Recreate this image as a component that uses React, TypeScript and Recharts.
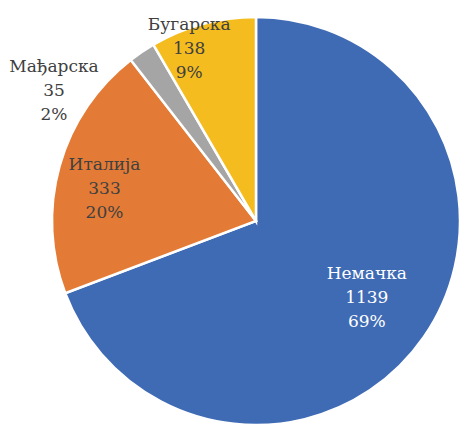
import React from 'react';
import { PieChart, Pie, Cell } from 'recharts';

// Data
const countries = ['Немачка', 'Италија', 'Мађарска', 'Бугарска'];
const counts = [1139, 333, 35, 138];
const percentLabels = ['69%', '20%', '2%', '9%'];
const colors = ['#3F6BB5', '#E37B36', '#A5A5A5', '#F4BC1F'];
const labelColors = ['#FFFFFF', '#404040', '#404040', '#404040'];

// label placement: radius factor (of outerRadius) and angle shift in degrees
const labelRadius = [0.66, 0.76, 1.18, 0.91];
const labelShift = [0, 3.4, 23, 6];

const data = countries.map((name, i) => ({ name, value: counts[i] }));

const RAD = Math.PI / 180;
const serif = 'DejaVu Serif, serif';

const renderLabel = (props) => {
  const { cx, cy, midAngle, outerRadius, index } = props;
  const r = outerRadius * labelRadius[index];
  const a = (midAngle + labelShift[index]) * RAD;
  const x = cx + r * Math.cos(a);
  const y = cy - r * Math.sin(a);
  const lines = [countries[index], String(counts[index]), percentLabels[index]];
  return (
    <g key={`lbl-${index}`}>
      {lines.map((line, k) => (
        <text
          key={k}
          x={x}
          y={y + (k - 1) * 24}
          dy="0.35em"
          textAnchor="middle"
          fill={labelColors[index]}
          fontFamily={serif}
          fontSize={17}
        >
          {line}
        </text>
      ))}
    </g>
  );
};

export default function App() {
  return (
    <div style={{ position: 'absolute', left: 0, top: 0, width: 461, height: 426, background: '#fff' }}>
      <PieChart width={461} height={426} margin={{ top: 0, right: 0, bottom: 0, left: 0 }}>
        <Pie
          data={data}
          dataKey="value"
          cx={256}
          cy={221}
          outerRadius={204}
          startAngle={90}
          endAngle={-270}
          stroke="#FFFFFF"
          strokeWidth={2.5}
          label={renderLabel}
          labelLine={false}
          isAnimationActive={false}
        >
          {data.map((d, i) => (
            <Cell key={d.name} fill={colors[i]} />
          ))}
        </Pie>
      </PieChart>
    </div>
  );
}
